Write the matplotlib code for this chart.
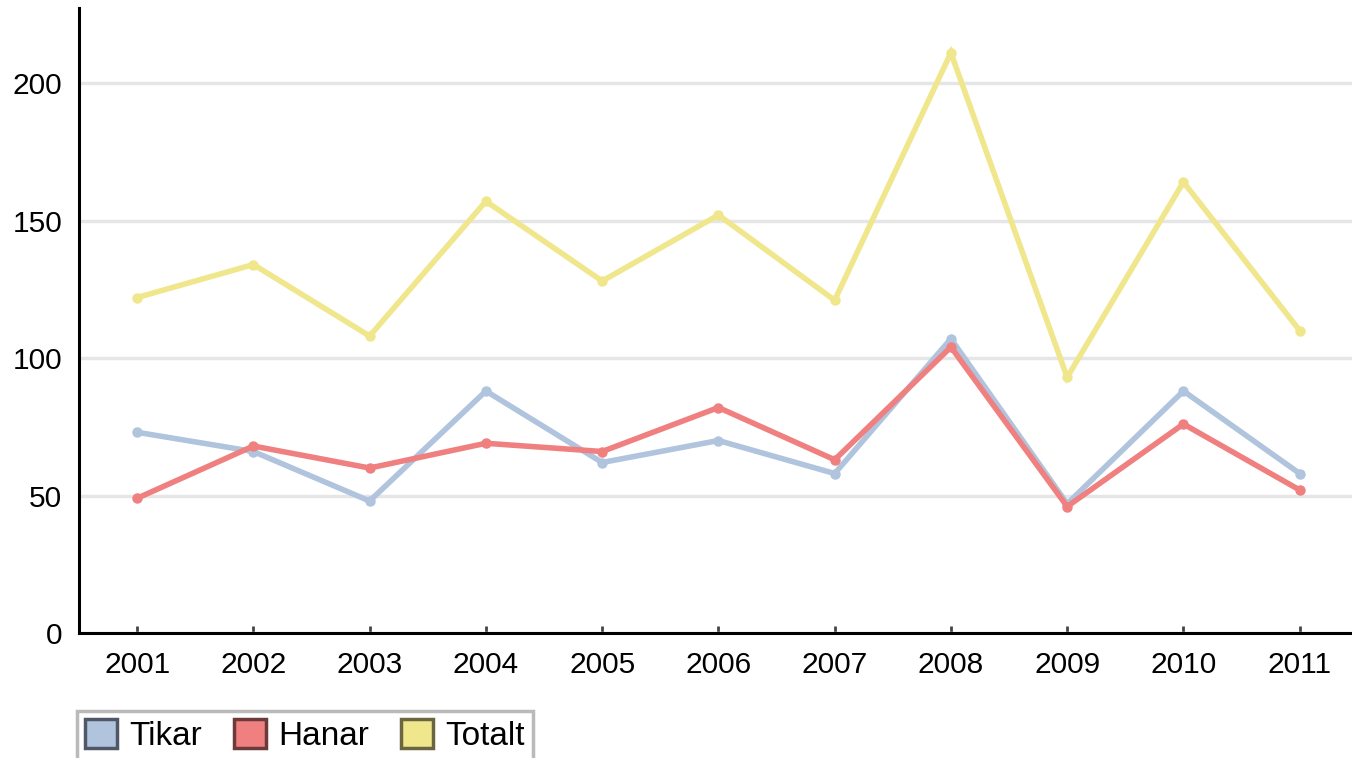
import matplotlib
matplotlib.use("Agg")
import matplotlib.pyplot as plt
from matplotlib.patches import Patch

years = ["2001", "2002", "2003", "2004", "2005", "2006", "2007", "2008", "2009", "2010", "2011"]
tikar = [73, 66, 48, 88, 62, 70, 58, 107, 47, 88, 58]
hanar = [49, 68, 60, 69, 66, 82, 63, 104, 46, 76, 52]
totalt = [122, 134, 108, 157, 128, 152, 121, 211, 93, 164, 110]
series_names = ["Tikar", "Hanar", "Totalt"]
colors = ["#b0c4de", "#f08080", "#f0e68c"]
edge_colors = ["#4f5866", "#6b3a3a", "#6b6540"]

plt.rcParams['font.family'] = ['Liberation Sans', 'DejaVu Sans']

fig = plt.figure(figsize=(13.52, 7.58), dpi=100)
ax = fig.add_axes([79/1352, 1 - 633/758, 1 - 79/1352, (633 - 8)/758])

x = list(range(len(years)))
for vals, c in zip([tikar, hanar, totalt], colors):
    ax.plot(x, vals, color=c, lw=4.0, marker='o', ms=6.5, mfc=c, mec=c, solid_joinstyle='miter', zorder=3)

ax.set_xlim(-0.5, 10.45)
ax.set_ylim(0, 227.3)
ax.set_yticks([0, 50, 100, 150, 200])
ax.set_xticks(x)
ax.set_xticklabels(years)
ax.yaxis.grid(True, color='#e6e6e6', lw=2.5)
ax.set_axisbelow(True)

for s in ['top', 'right']:
    ax.spines[s].set_visible(False)
ax.spines['left'].set_linewidth(2.2)
ax.spines['bottom'].set_linewidth(2.2)

ax.tick_params(axis='x', direction='in', length=5, width=2, color='#444444', labelsize=21.5, pad=13)
ax.tick_params(axis='y', length=0, labelsize=21.5, pad=12)

handles = [Patch(facecolor=c, edgecolor=e, lw=2.5) for c, e in zip(colors, edge_colors)]
leg = fig.legend(handles, series_names, loc='upper left',
                 bbox_to_anchor=(77/1352, 1 - 711/758), ncol=3, fontsize=24,
                 frameon=True, fancybox=False, edgecolor='#a9a9a9',
                 handlelength=0.95, handleheight=0.95, handletextpad=0.38,
                 columnspacing=0.95, borderpad=0.25, borderaxespad=0)
leg.get_frame().set_linewidth(2.5)

fig.savefig("out.png", dpi=100)
